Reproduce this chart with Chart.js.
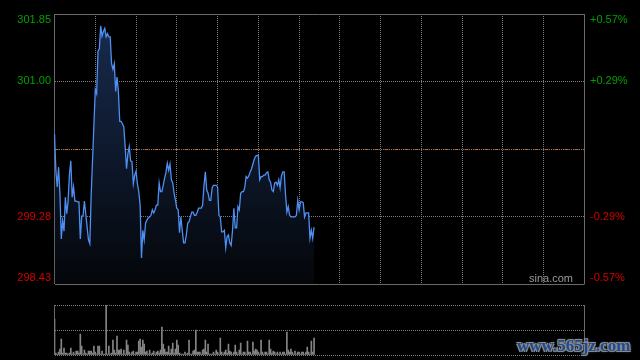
<!DOCTYPE html>
<html><head><meta charset="utf-8">
<script src="https://cdn.jsdelivr.net/npm/chart.js@4.4.1/dist/chart.umd.min.js"></script>
<style>
html,body{margin:0;padding:0;background:#000;width:640px;height:360px;overflow:hidden;}
#c1{position:absolute;left:0;top:0;}
#c2{position:absolute;left:0;top:290px;}
#wm{position:absolute;left:517px;top:336px;font:bold 17px "Liberation Serif",serif;line-height:20px;color:#1c4a94;
text-shadow:1px 1px 0 #8a8a8a,-1px -1px 0 #8a8a8a,1px -1px 0 #8a8a8a,-1px 1px 0 #8a8a8a,0 0 3px #aaa;white-space:nowrap;}
</style></head><body>
<canvas id="c1" width="640" height="300"></canvas>
<canvas id="c2" width="640" height="70"></canvas>
<div id="wm">www.565jz.com</div>
<script>
// ---- data ----
const prevClose = 300.14;
const priceTicks = [301.85, 301.00, 300.14, 299.28, 298.43];
const leftLabels = ['301.85', '301.00', '', '299.28', '298.43'];
const rightLabels = ['+0.57%', '+0.29%', '', '-0.29%', '-0.57%'];
const volumeTicks = [0, 25, 50];
const prices = [
300.33,299.87,299.66,299.91,299.57,299.00,299.23,299.10,299.53,299.32,
299.48,299.82,299.99,299.53,299.66,299.48,299.48,299.47,299.47,299.00,
299.29,299.29,299.48,299.32,299.15,298.99,298.94,299.56,300.00,300.44,
300.89,300.84,301.38,301.41,301.70,301.57,301.63,301.67,301.56,301.60,
301.56,301.56,301.22,301.15,301.22,300.87,301.05,300.87,300.49,300.49,
300.46,300.42,300.17,299.89,300.08,300.17,299.99,299.98,299.70,299.81,
299.86,299.70,299.60,299.43,298.76,299.11,298.99,299.20,299.24,299.27,
299.28,299.30,299.37,299.33,299.37,299.43,299.43,299.71,299.60,299.60,
299.68,299.77,299.84,299.96,299.87,299.95,299.75,299.71,299.58,299.49,
299.39,299.37,299.08,299.28,299.11,298.95,298.95,299.05,299.20,299.22,
299.28,299.34,299.34,299.30,299.30,299.34,299.39,299.39,299.39,299.43,
299.68,299.85,299.62,299.58,299.49,299.49,299.65,299.68,299.68,299.68,
299.66,299.30,299.28,299.09,299.09,299.11,298.89,299.03,299.05,298.95,
298.92,299.11,299.39,299.14,299.14,299.41,299.37,299.58,299.60,299.60,
299.65,299.79,299.77,299.80,299.85,299.89,299.95,300.01,300.05,300.06,
300.06,299.75,299.79,299.79,299.81,299.81,299.84,299.85,299.75,299.72,
299.62,299.60,299.71,299.72,299.68,299.75,299.65,299.80,299.85,299.85,
299.56,299.34,299.41,299.30,299.28,299.28,299.28,299.28,299.30,299.49,
299.37,299.47,299.47,299.46,299.28,299.33,299.33,299.33,299.01,299.11,
299.01,299.15
];
const volumes = [
36,2,1,3,6,16,2,7,2,2, 1,2,7,1,3,1,4,4,2,21,
9,1,5,2,1,4,4,4,2,9, 3,1,9,9,1,4,1,1,50,1,
9,1,2,15,5,2,19,5,5,6, 1,5,1,15,10,3,1,3,4,1,
3,3,14,16,8,15,11,3,4,1, 5,1,2,4,1,3,4,2,5,28,
11,6,3,3,9,2,6,12,2,6, 15,10,2,1,1,1,3,1,2,15,
1,1,4,5,25,3,3,3,1,5, 6,15,3,11,1,1,1,3,1,5,
3,1,17,3,1,3,5,2,11,4, 3,1,3,10,3,1,5,12,1,3,
3,1,14,3,3,1,13,4,6,5, 3,1,15,3,1,3,3,1,15,6,
2,4,3,1,3,1,3,1,3,3, 1,23,5,3,6,3,1,4,1,3,
3,1,3,3,1,3,8,3,1,14, 3,17
];
// session minute labels 09:30 .. 16:00
const times = [];
for (let m = 0; m <= 390; m++) {
  const t = 570 + m;
  times.push(String(Math.floor(t / 60)).padStart(2, '0') + ':' + String(t % 60).padStart(2, '0'));
}

// ---- styles ----
const frameGray = '#6a6a6a';
const dotGray = '#7c7c7c';
const upGreen = '#00a000';
const downRed = '#d40000';
const font11 = '11px "Liberation Sans", Arial, sans-serif';
const leftW = 54.5, rightW = 55.5;

const sideLabels = {
  id: 'sideLabels',
  afterDraw(chart) {
    const y = chart.scales.y, a = chart.chartArea, ctx = chart.ctx;
    ctx.save();
    ctx.font = font11;
    ctx.textBaseline = 'middle';
    priceTicks.forEach((v, i) => {
      if (!leftLabels[i]) return;
      let py = y.getPixelForValue(v);
      py = Math.min(Math.max(py, a.top + 6), a.bottom - 6);
      ctx.fillStyle = v > prevClose ? upGreen : downRed;
      ctx.textAlign = 'right';
      ctx.fillText(leftLabels[i], 51, py);
      ctx.textAlign = 'left';
      ctx.fillText(rightLabels[i], 590, py);
    });
    ctx.fillStyle = '#9a9a9a';
    ctx.textAlign = 'right';
    ctx.fillText('sina.com', 573, a.bottom - 5);
    ctx.restore();
  }
};

const isEdgeX = c => c.tick && (c.tick.value === 0 || c.tick.value === 390);
const isEdgeY = c => c.tick && (c.tick.value === priceTicks[0] || c.tick.value === priceTicks[priceTicks.length - 1]);

new Chart(document.getElementById('c1'), {
  type: 'line',
  data: {
    labels: times,
    datasets: [{
      data: prices,
      borderColor: '#4f8ff2',
      borderWidth: 1.3,
      pointRadius: 0,
      tension: 0,
      fill: 'start',
      backgroundColor: c => {
        const a = c.chart.chartArea;
        if (!a) return 'rgba(0,0,0,0)';
        const g = c.chart.ctx.createLinearGradient(0, a.top, 0, a.bottom);
        g.addColorStop(0, '#182c50');
        g.addColorStop(1, '#04060a');
        return g;
      }
    }]
  },
  options: {
    responsive: false, animation: false, events: [],
    layout: { padding: { top: 14, left: 0, right: 0, bottom: 0 } },
    plugins: { legend: { display: false }, tooltip: { enabled: false } },
    scales: {
      x: {
        type: 'category', offset: false,
        afterBuildTicks: s => { s.ticks = s.ticks.filter(t => t.value % 30 === 0); },
        afterFit: s => { s.height = 16; },
        ticks: { display: false, autoSkip: false },
        grid: { offset: false, drawTicks: false, color: c => isEdgeX(c) ? frameGray : dotGray },
        border: { display: false, dash: c => isEdgeX(c) ? [] : [1, 1] }
      },
      y: {
        type: 'linear', min: priceTicks[priceTicks.length - 1], max: priceTicks[0], bounds: 'data',
        afterBuildTicks: s => { s.ticks = priceTicks.map(v => ({ value: v })); },
        afterFit: s => { s.width = leftW; },
        ticks: { display: false },
        grid: { drawTicks: false, color: c => isEdgeY(c) ? frameGray : dotGray },
        border: { display: false, dash: c => isEdgeY(c) ? [] : [1, 1] }
      },
      y2: {
        type: 'linear', position: 'right', min: priceTicks[priceTicks.length - 1], max: priceTicks[0], bounds: 'data',
        afterBuildTicks: s => { s.ticks = [{ value: prevClose }]; },
        afterFit: s => { s.width = rightW; },
        ticks: { display: false },
        grid: { drawTicks: false, color: '#c0662a' },
        border: { display: false, dash: [4, 6] }
      }
    }
  },
  plugins: [sideLabels]
});

new Chart(document.getElementById('c2'), {
  type: 'bar',
  data: {
    labels: times,
    datasets: [{
      data: volumes,
      backgroundColor: '#858585',
      barThickness: 1,
      borderWidth: 0
    }]
  },
  options: {
    responsive: false, animation: false, events: [],
    layout: { padding: { top: 15, left: 0, right: 0, bottom: 0 } },
    plugins: { legend: { display: false }, tooltip: { enabled: false } },
    scales: {
      x: {
        type: 'category', offset: false,
        afterBuildTicks: s => { s.ticks = s.ticks.filter(t => t.value === 0 || t.value === 390); },
        afterFit: s => { s.height = 5; },
        ticks: { display: false, autoSkip: false },
        grid: { offset: false, drawTicks: false, color: frameGray },
        border: { display: false }
      },
      y: {
        min: 0, max: 50,
        afterBuildTicks: s => { s.ticks = volumeTicks.map(v => ({ value: v })); },
        afterFit: s => { s.width = leftW; },
        ticks: { display: false },
        grid: { drawTicks: false, color: dotGray },
        border: { display: false, dash: [1, 1] }
      },
      y2: {
        position: 'right',
        afterFit: s => { s.width = rightW; },
        ticks: { display: false },
        grid: { display: false },
        border: { display: false }
      }
    }
  }
});
</script>
</body></html>
